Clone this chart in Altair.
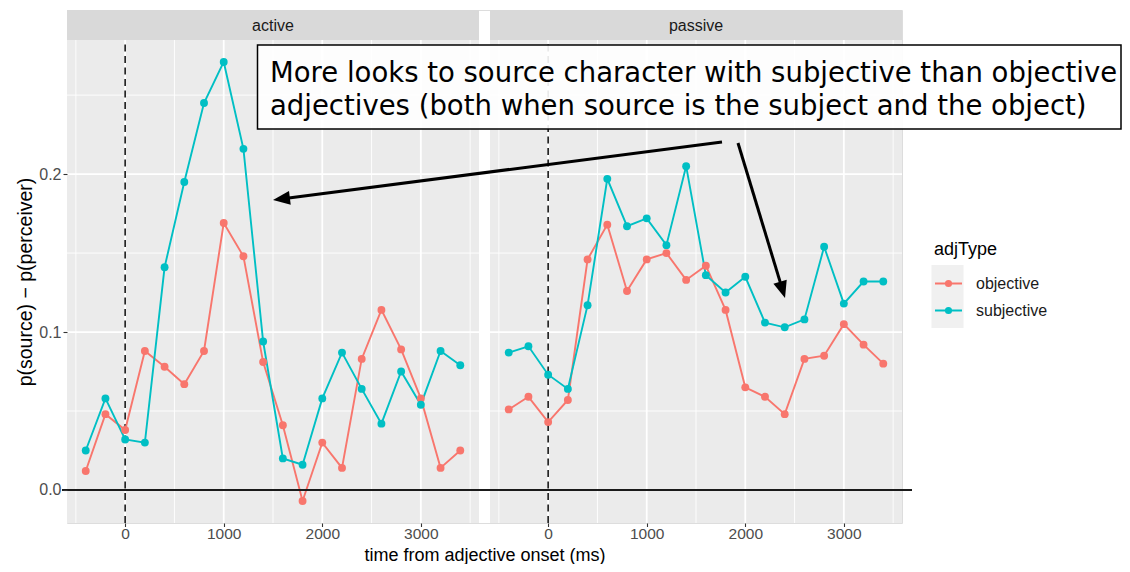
import math
import altair as alt
import pandas as pd

# ---------------- data ----------------
TIMES = [-400, -200, 0, 200, 400, 600, 800, 1000, 1200, 1400, 1600, 1800,
         2000, 2200, 2400, 2600, 2800, 3000, 3200, 3400]
ACTIVE_OBJ = [0.012, 0.048, 0.038, 0.088, 0.078, 0.067, 0.088, 0.169, 0.148, 0.081,
              0.041, -0.007, 0.030, 0.014, 0.083, 0.114, 0.089, 0.058, 0.014, 0.025]
ACTIVE_SUBJ = [0.025, 0.058, 0.032, 0.030, 0.141, 0.195, 0.245, 0.271, 0.216, 0.094,
               0.020, 0.016, 0.058, 0.087, 0.064, 0.042, 0.075, 0.054, 0.088, 0.079]
PASSIVE_OBJ = [0.051, 0.059, 0.043, 0.057, 0.146, 0.168, 0.126, 0.146, 0.150, 0.133,
               0.142, 0.114, 0.065, 0.059, 0.048, 0.083, 0.085, 0.105, 0.092, 0.080]
PASSIVE_SUBJ = [0.087, 0.091, 0.073, 0.064, 0.117, 0.197, 0.167, 0.172, 0.155, 0.205,
                0.136, 0.125, 0.135, 0.106, 0.103, 0.108, 0.154, 0.118, 0.132, 0.132]
PANELS = ["active", "passive"]
ADJ_TYPES = ["objective", "subjective"]
COLORS = ["#F8766D", "#00BFC4"]
X_MAJOR = [0, 1000, 2000, 3000]
X_MINOR = [-500, 500, 1500, 2500, 3500]
Y_MAJOR = [0.0, 0.1, 0.2]
Y_MINOR = [0.05, 0.15, 0.25]
ANNOT_LINES = ["More looks to source character with subjective than objective",
               "adjectives (both when source is the subject and the object)"]

# ---------------- layout ----------------
FONT = "Liberation Sans"
PW, GAP, H, STRIP = 412, 11, 513, 30
W = 2 * PW + GAP

tmin, tmax = min(TIMES), max(TIMES)
XMIN, XMAX = tmin - 0.05 * (tmax - tmin), tmax + 0.05 * (tmax - tmin)
allv = ACTIVE_OBJ + ACTIVE_SUBJ + PASSIVE_OBJ + PASSIVE_SUBJ
vmin, vmax = min(allv), max(allv)
YMIN, YMAX = vmin - 0.05 * (vmax - vmin), vmax + 0.05 * (vmax - vmin)

ys = alt.Scale(domain=[YMIN, YMAX], range=[H, STRIP], nice=False, zero=False)
cs = alt.Scale(domain=ADJ_TYPES, range=COLORS)

HEAD = "M0,0L-0.41,1L0.41,1Z"
LEG_SYMBOL = ("M-1,0L1,0"
              "M0.2,0A0.2,0.2 0 1,1 -0.2,0A0.2,0.2 0 1,1 0.2,0"
              "M0.12,0A0.12,0.12 0 1,1 -0.12,0A0.12,0.12 0 1,1 0.12,0"
              "M0.04,0A0.04,0.04 0 1,1 -0.04,0A0.04,0.04 0 1,1 0.04,0")

# One shared y axis: every layer on the shared y scale carries the same spec,
# so the merged axis is never disabled.
YAXIS = alt.Axis(values=Y_MAJOR, format=".1f", grid=False, domain=False,
                 orient="left", tickSize=4, tickColor="#333333", tickWidth=1.1,
                 labelFontSize=16, labelColor="#4D4D4D", labelFont=FONT,
                 labelPadding=2, title="p(source) \u2212 p(perceiver)",
                 titleFontSize=19.5, titleFontWeight="normal", titleColor="black",
                 titleFont=FONT, titlePadding=3, zindex=1)


def Y(field):
    return alt.Y(field, type="quantitative", scale=ys, axis=YAXIS)


def px(field):
    """Pixel-positioned channel (annotation layers)."""
    return dict(field=field, type="quantitative", scale=None, axis=None)


def x_axis(with_title):
    kw = dict(values=X_MAJOR, format="d", grid=False, domain=False, ticks=True,
              tickSize=3.5, tickColor="#333333", tickWidth=1.1, labelFontSize=15.5,
              labelColor="#4D4D4D", labelFont=FONT, labelPadding=0, orient="bottom",
              labelFlush=False, zindex=1)
    if with_title:
        kw.update(title="time from adjective onset (ms)", titleFontSize=18,
                  titleFontWeight="normal", titleColor="black", titleFont=FONT,
                  titleX=W / 2, titleY=37, titleBaseline="alphabetic",
                  titleAlign="center")
    else:
        kw.update(title=None)
    return alt.Axis(**kw)


def panel(i, name, obj, subj):
    x0 = i * (PW + GAP)
    xs = alt.Scale(domain=[XMIN, XMAX], range=[x0, x0 + PW], nice=False, zero=False)
    df = pd.DataFrame({
        "time": TIMES * 2,
        "value": obj + subj,
        "adjType": [ADJ_TYPES[0]] * len(TIMES) + [ADJ_TYPES[1]] * len(TIMES),
    })
    box = pd.DataFrame({"x0": [XMIN], "x1": [XMAX], "y0": [YMIN], "y1": [YMAX],
                        "xm": [(XMIN + XMAX) / 2], "label": [name]})

    bg = alt.Chart(box).mark_rect(color="#EBEBEB").encode(
        x=alt.X("x0:Q", scale=xs, axis=None), x2="x1", y=Y("y0"), y2="y1")

    def vgrid(vals, w):
        d = pd.DataFrame({"t": vals, "y0": YMIN, "y1": YMAX})
        return alt.Chart(d).mark_rule(color="white", strokeWidth=w).encode(
            x=alt.X("t:Q", scale=xs, axis=None), y=Y("y0"), y2="y1")

    def hgrid(vals, w):
        d = pd.DataFrame({"v": vals, "x0": XMIN, "x1": XMAX})
        return alt.Chart(d).mark_rule(color="white", strokeWidth=w).encode(
            y=Y("v"), x=alt.X("x0:Q", scale=xs, axis=None), x2="x1")

    vl = pd.DataFrame({"t": [0], "y0": [YMIN], "y1": [YMAX]})
    vline = alt.Chart(vl).mark_rule(color="#262626", strokeWidth=1.7,
                                    strokeDash=[7, 4.5]).encode(
        x=alt.X("t:Q", scale=xs, axis=None), y=Y("y0"), y2="y1")

    first = i == 0
    legend = alt.Legend(
        title="adjType", orient="none", legendX=867, legendY=231, padding=0,
        titleFontSize=18, titleFontWeight="normal", titleColor="black", titleFont=FONT,
        labelFontSize=16, labelColor="#1A1A1A", labelFont=FONT,
        symbolType=LEG_SYMBOL, symbolSize=729, symbolStrokeWidth=1.8,
        rowPadding=4, titlePadding=10, labelOffset=13) if first else None

    line = alt.Chart(df).mark_line(strokeWidth=1.9).encode(
        x=alt.X("time:Q", scale=xs, axis=x_axis(first)),
        y=Y("value"),
        color=alt.Color("adjType:N", scale=cs, legend=legend))
    pts = alt.Chart(df).mark_circle(size=62, opacity=1).encode(
        x=alt.X("time:Q", scale=xs, axis=None),
        y=Y("value"),
        color=alt.Color("adjType:N", scale=cs, legend=None))

    strip = alt.Chart(box).mark_rect(color="#D9D9D9").encode(
        x=alt.X("x0:Q", scale=xs, axis=None), x2="x1",
        y=alt.value(0), y2=alt.value(STRIP))
    strip_txt = alt.Chart(box).mark_text(fontSize=16, color="#1A1A1A", font=FONT,
                                         baseline="middle").encode(
        x=alt.X("xm:Q", scale=xs, axis=None), y=alt.value(STRIP / 2 + 1), text="label:N")

    return [bg, vgrid(X_MINOR, 0.9), hgrid(Y_MINOR, 0.9),
            vgrid(X_MAJOR, 1.8), hgrid(Y_MAJOR, 1.8),
            vline, line, pts, strip, strip_txt]


layers = panel(0, PANELS[0], ACTIVE_OBJ, ACTIVE_SUBJ) + \
    panel(1, PANELS[1], PASSIVE_OBJ, PASSIVE_SUBJ)

# ---------------- annotations (pixel positions inside the view) ----------------
zero = pd.DataFrame({"y": [0.0], "xa": [-5], "xb": [W + 10]})
zero_line = alt.Chart(zero).mark_rule(color="#1A1A1A", strokeWidth=2.2).encode(
    y=Y("y"), x=alt.X(**px("xa")), x2="xb")

leg_bg = alt.Chart(pd.DataFrame({"a": [864.5], "b": [896.5], "c": [255], "d": [318]})
                   ).mark_rect(color="#F0F0F0").encode(
    x=alt.X(**px("a")), x2="b", y=alt.Y(**px("c")), y2="d")

ann_box = alt.Chart(pd.DataFrame({"a": [190.5], "b": [1054], "c": [35], "d": [119]})
                    ).mark_rect(fill="white", fillOpacity=0.9, stroke="black",
                                strokeWidth=1.5).encode(
    x=alt.X(**px("a")), x2="b", y=alt.Y(**px("c")), y2="d")

ann_txt = alt.Chart(pd.DataFrame({"t": ANNOT_LINES, "x": [203, 203], "y": [71.5, 105]})
                    ).mark_text(align="left", baseline="alphabetic", font="DejaVu Sans",
                                fontSize=27.5, color="black").encode(
    x=alt.X(**px("x")), y=alt.Y(**px("y")), text="t:N")

ARROWS = [(655, 132, 206, 190), (671, 133, 718, 288)]
rows = []
for sx, sy, tx, ty in ARROWS:
    dx, dy = tx - sx, ty - sy
    L = math.hypot(dx, dy)
    rows.append({"sx": sx, "sy": sy, "ex": tx - 10 * dx / L, "ey": ty - 10 * dy / L,
                 "tx": tx, "ty": ty,
                 "ang": (math.degrees(math.atan2(dy, dx)) + 90) % 360})
arr = pd.DataFrame(rows)
arrow_lines = alt.Chart(arr).mark_rule(color="black", strokeWidth=3).encode(
    x=alt.X(**px("sx")), y=alt.Y(**px("sy")), x2="ex", y2="ey")
arrow_heads = alt.Chart(arr).mark_point(shape=HEAD, filled=True, size=1156,
                                        color="black", opacity=1, strokeWidth=0).encode(
    x=alt.X(**px("tx")), y=alt.Y(**px("ty")),
    angle=alt.Angle("ang:Q", scale=None))

chart = alt.layer(*layers, zero_line, leg_bg, ann_box, ann_txt, arrow_lines, arrow_heads
                  ).resolve_scale(x="independent").properties(
    width=W, height=H, autosize="none",
    padding={"left": 59, "top": 2, "right": 220, "bottom": 41},
    background="white",
).configure_view(stroke=None).configure(font=FONT)

chart.save("out.html", embed_options={"renderer": "svg", "actions": False})
